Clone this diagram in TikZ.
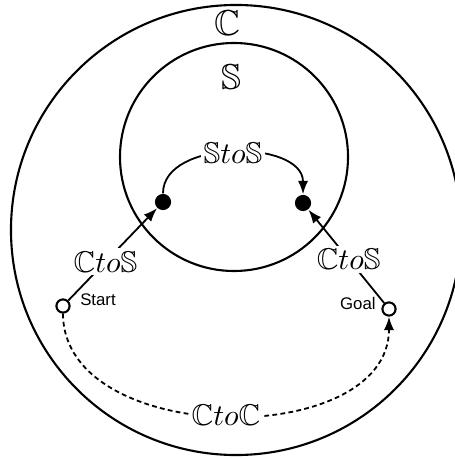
\documentclass[tikz,border=0pt]{standalone}
\usepackage{amssymb}
\usepackage{fontspec}
\newfontfamily\rotulofont{Liberation Sans}
\usetikzlibrary{arrows.meta, positioning}

\begin{document}
\begin{tikzpicture}[
  x=0.3333pt, y=-0.3333pt,
  conjunto/.style={circle, draw, line width=0.7pt, inner sep=0pt},
  estado/.style={circle, draw, line width=0.7pt, fill=white,
    inner sep=0pt, minimum size=4.4pt},
  punto/.style={circle, fill=black, inner sep=0pt, minimum size=5.4pt},
  flecha/.style={-{Latex[length=4.5pt,width=3.4pt]}, line width=0.6pt},
  trazo/.style={flecha, dash pattern=on 1.6pt off 1.1pt},
  etiq/.style={fill=white, inner sep=1pt},
  nombre/.style={font=\large},
  rotulo/.style={font=\rotulofont\fontsize{5.6}{6}\selectfont, inner sep=1pt}
]
  \useasboundingbox (0,0) rectangle (455,459);

  % conjuntos
  \node[conjunto, minimum size=150pt] (espC) at (236,230) {};
  \node[conjunto, minimum size=76pt] (espS) at (234,157) {};
  \node[nombre] (nomC) at (227,23) {$\mathbb{C}$};
  \node[nombre] (nomS) at (231,77) {$\mathbb{S}$};

  % estados
  \node[punto] (s1) at (163,202) {};
  \node[punto] (s2) at (303,203) {};
  \node[estado] (inicio) at (63,306) {};
  \node[estado] (meta) at (389,309) {};
  \node[rotulo, right=2pt of inicio, yshift=2pt] (txtinicio) {Start};
  \node[rotulo, left=0.7pt of meta, yshift=1.7pt] (txtmeta) {Goal};

  \draw[flecha] (inicio) -- node[etiq, pos=0.42] {$\mathbb{C}to\mathbb{S}$} (s1);
  \draw[flecha] (meta) -- node[etiq, pos=0.47] {$\mathbb{C}to\mathbb{S}$} (s2);
  \draw[flecha] (s1) to[out=90, in=90] node[etiq] {$\mathbb{S}to\mathbb{S}$} (s2);
  \draw[trazo] (inicio) to[out=-90, in=-90, looseness=1.05]
    node[etiq] {$\mathbb{C}to\mathbb{C}$} (meta);
\end{tikzpicture}
\end{document}
